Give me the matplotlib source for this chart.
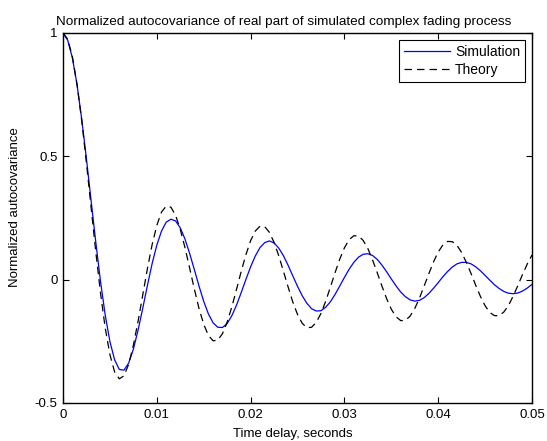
import numpy as np
import matplotlib.pyplot as plt

plt.rcParams['font.family'] = ['Liberation Sans', 'DejaVu Sans']
plt.rcParams['axes.unicode_minus'] = False

# delay axis, 0 .. 0.05 s in steps of 0.5 ms
tau = np.linspace(0, 0.05, 101)

# values
simulation = [1.000, 0.971, 0.899, 0.789, 0.649, 0.489, 0.318, 0.150, -0.008, -0.144,
              -0.251, -0.325, -0.364, -0.367, -0.338, -0.282, -0.205, -0.116, -0.023, 0.065,
              0.140, 0.197, 0.233, 0.245, 0.238, 0.210, 0.165, 0.106, 0.041, -0.026,
              -0.088, -0.139, -0.175, -0.193, -0.194, -0.178, -0.146, -0.103, -0.052, 0.001,
              0.052, 0.096, 0.130, 0.150, 0.157, 0.149, 0.128, 0.097, 0.058, 0.015,
              -0.027, -0.065, -0.096, -0.118, -0.127, -0.126, -0.112, -0.090, -0.060, -0.026,
              0.009, 0.042, 0.070, 0.091, 0.103, 0.105, 0.098, 0.082, 0.059, 0.032,
              0.003, -0.025, -0.050, -0.069, -0.082, -0.087, -0.084, -0.073, -0.056, -0.035,
              -0.012, 0.012, 0.033, 0.051, 0.064, 0.070, 0.070, 0.064, 0.052, 0.036,
              0.017, -0.002, -0.021, -0.036, -0.048, -0.055, -0.057, -0.054, -0.046, -0.034,
              -0.019]

theory = [1.000, 0.975, 0.904, 0.790, 0.643, 0.472, 0.291, 0.111, -0.055, -0.196,
          -0.304, -0.374, -0.402, -0.390, -0.343, -0.266, -0.169, -0.062, 0.045, 0.142,
          0.220, 0.274, 0.298, 0.294, 0.261, 0.204, 0.130, 0.047, -0.038, -0.117,
          -0.181, -0.226, -0.248, -0.245, -0.219, -0.172, -0.110, -0.039, 0.034, 0.101,
          0.158, 0.197, 0.217, 0.215, 0.192, 0.151, 0.097, 0.034, -0.030, -0.091,
          -0.141, -0.177, -0.195, -0.193, -0.173, -0.137, -0.088, -0.031, 0.028, 0.083,
          0.129, 0.162, 0.178, 0.177, 0.159, 0.126, 0.080, 0.028, -0.026, -0.077,
          -0.120, -0.150, -0.166, -0.165, -0.148, -0.117, -0.075, -0.026, 0.024, 0.072,
          0.112, 0.141, 0.155, 0.154, 0.139, 0.110, 0.070, 0.025, -0.023, -0.068,
          -0.106, -0.133, -0.146, -0.146, -0.131, -0.104, -0.066, -0.023, 0.022, 0.064,
          0.100]

xticks = [0, 0.01, 0.02, 0.03, 0.04, 0.05]
xticklabels = ['0', '0.01', '0.02', '0.03', '0.04', '0.05']
yticks = [-0.5, 0, 0.5, 1]
yticklabels = ['-0.5', '0', '0.5', '1']

fig = plt.figure(figsize=(5.47, 4.41), dpi=100)
ax = fig.add_axes([0.1152, 0.0862, 0.8574, 0.839])

ax.plot(tau, simulation, color='#0000ff', lw=0.9, label='Simulation')
ax.plot(tau, theory, color='black', lw=0.9, ls=(0, (6, 4)), label='Theory')

ax.set_xlim(0, 0.05)
ax.set_ylim(-0.5, 1)
ax.set_xticks(xticks)
ax.set_xticklabels(xticklabels)
ax.set_yticks(yticks)
ax.set_yticklabels(yticklabels)
ax.tick_params(direction='in', length=4, width=0.8, top=True, right=True, labelsize=9.5, pad=4)
for s in ax.spines.values():
    s.set_linewidth(1.0)

# title and labels sit a little off centre in the original
ax.set_title('Normalized autocovariance of real part of simulated complex fading process',
             fontsize=9.7, pad=6, x=0.47)
ax.set_xlabel('Time delay, seconds', fontsize=9.5)
ax.xaxis.set_label_coords(0.49, -0.068)
ax.set_ylabel('Normalized autocovariance', fontsize=9.5)
ax.yaxis.set_label_coords(-0.09, 0.53)

leg = ax.legend(loc='upper right', fontsize=10, fancybox=False, framealpha=1,
                edgecolor='black', handlelength=3.3, handletextpad=0.4,
                borderaxespad=0.5, borderpad=0.35, labelspacing=0.3)
leg.get_frame().set_linewidth(0.8)

fig.savefig('out.png', dpi=100)
